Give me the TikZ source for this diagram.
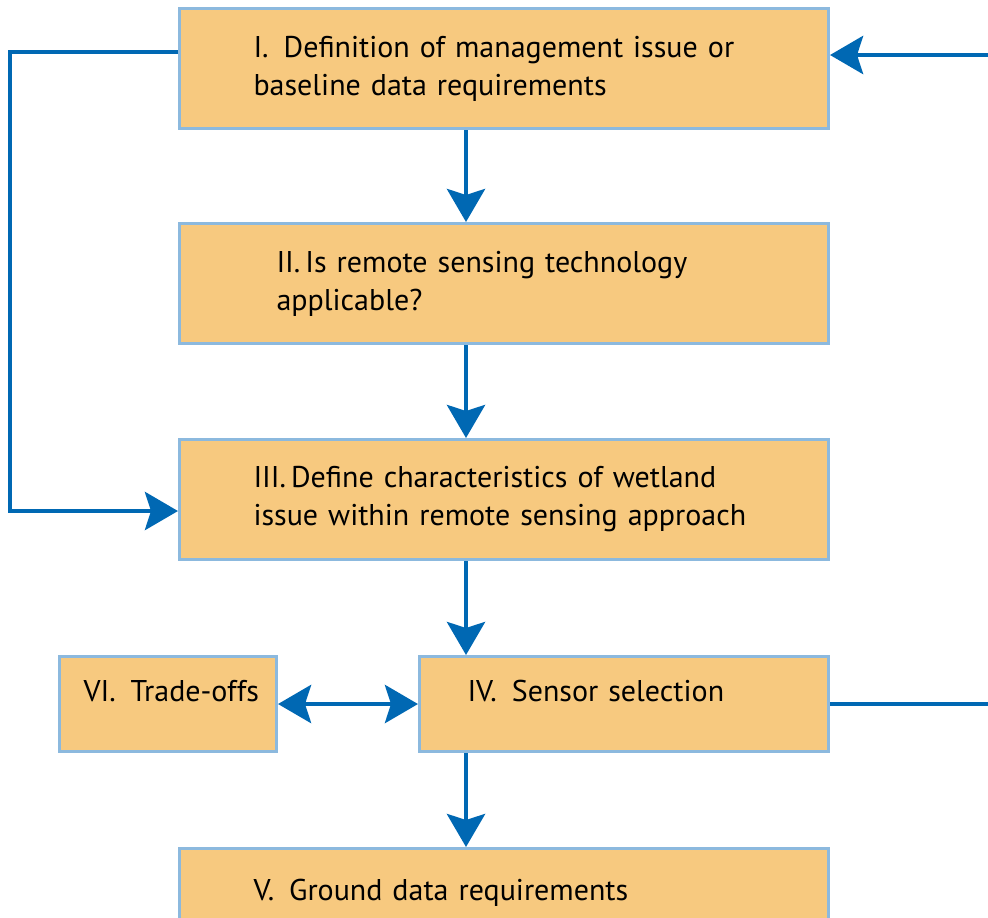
\documentclass[tikz,border=0pt]{standalone}
\usepackage{fontspec}
\setmainfont{PT Sans}
\usetikzlibrary{arrows.meta}

\definecolor{stagefill}{RGB}{247,201,127}
\definecolor{stageline}{RGB}{140,185,222}
\definecolor{flowblue}{RGB}{0,104,179}

\begin{document}
\begin{tikzpicture}[x=0.5pt, y=-0.5pt]
% Styles
\tikzset{
    stage/.style={draw=stageline, fill=stagefill, line width=1.5pt,
        anchor=north west, align=left, inner ysep=0pt, minimum height=60pt,
        font=\fontsize{15}{19}\selectfont},
    smallstage/.style={stage, minimum height=47.5pt, text depth=13pt},
    flow/.style={draw=flowblue, line width=2.4pt,
        -{Stealth[length=16.5pt, width=19pt, inset=3pt]}},
    flowboth/.style={flow,
        {Stealth[length=16.5pt, width=19pt, inset=3pt]}-{Stealth[length=16.5pt, width=19pt, inset=3pt]}},
    link/.style={draw=flowblue, line width=2.4pt}
}

% Frame
\useasboundingbox (0, 0) rectangle (988, 917);
\clip (0, 0) rectangle (988, 917);

% Nodes
\node[stage, text width=250.5pt, inner xsep=37pt]
    (S1) at (178, 7) {I.\enspace Definition of management issue or\\baseline data requirements};
\node[stage, text width=227.5pt, inner xsep=48.5pt]
    (S2) at (178, 222) {II.\,Is remote sensing technology\\applicable?};
\node[stage, text width=250.5pt, inner xsep=37pt]
    (S3) at (178, 438) {III.\,Define characteristics of wetland\\issue within remote sensing approach};
\node[smallstage, text width=156.5pt, inner xsep=24pt]
    (S4) at (418, 655) {IV.\enspace Sensor selection};
\node[smallstage, text width=84.5pt, inner xsep=12pt]
    (S6) at (58, 655) {\mbox{VI.\enspace Trade-offs}};
\node[stage, text width=250.5pt, inner xsep=37pt]
    (S5) at (178, 847) {V.\enspace Ground data requirements\\\mbox{}};

% Helper coordinates
\coordinate (col) at (466, 0);
\coordinate (feedin) at (988, 55);
\coordinate (feedout) at (988, 0);
\coordinate (loopA) at (10, 52);
\coordinate (loopB) at (10, 511);

% Connections
\draw[flow] (S1.south -| col) -- (S2.north -| col);
\draw[flow] (S2.south -| col) -- (S3.north -| col);
\draw[flow] (S3.south -| col) -- (S4.north -| col);
\draw[flow] (S4.south -| col) -- (S5.north -| col);

\draw[flowboth] (S6.east) -- (S4.west);

\draw[flow] (feedin) -- (S1.east |- feedin);
\draw[link] (S4.east) -- (S4.east -| feedout);

\draw[flow] (S1.west |- loopA) -- (loopA) -- (loopB) -- (S3.west |- loopB);
\end{tikzpicture}
\end{document}
